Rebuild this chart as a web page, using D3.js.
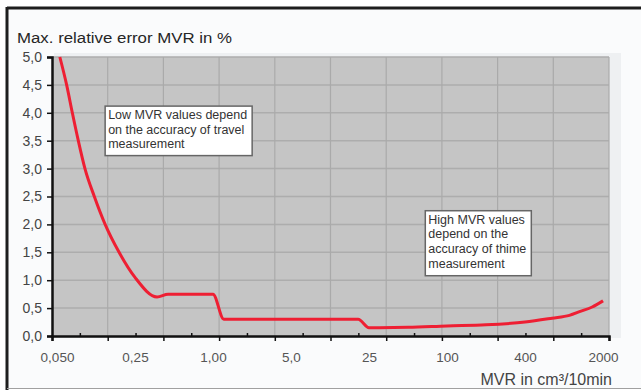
<!DOCTYPE html>
<html lang="en">
    <head>
        <meta charset="utf-8">
        <script src="https://cdn.jsdelivr.net/npm/d3@7/dist/d3.min.js"></script>
        <style type="text/css">
            body {
                margin: 0;
                background: #ffffff;
            }
            svg text {
                font-family: "Liberation Sans", Arial, sans-serif;
            }
        </style>
    </head>
    <body>
        <div id="chart"></div>

        <script type="text/javascript">
            // x axis labels (MVR in cm3/10min) and the text shown for each
            var mvrTicks = [0.05, 0.25, 1, 5, 25, 100, 400, 2000];
            var mvrTickLabels = ["0,050", "0,25", "1,00", "5,0", "25", "100", "400", "2000"];

            // y axis ticks (max. relative error in %)
            var errTicks = [0, 0.5, 1, 1.5, 2, 2.5, 3, 3.5, 4, 4.5, 5];

            // curve
            var mvrValues = [0.053, 0.061, 0.0686, 0.0776, 0.089, 0.108, 0.135, 0.18, 0.25, 0.37, 0.45,
                             1.0, 1.25, 20, 25, 30, 50, 100, 200, 400, 700, 1000, 1250, 1600, 2000];
            var errValues = [5.0, 4.5, 4.0, 3.5, 3.0, 2.5, 2.0, 1.5, 1.05, 0.70, 0.75,
                             0.75, 0.30, 0.30, 0.15, 0.15, 0.155, 0.18, 0.20, 0.25, 0.32, 0.37, 0.44, 0.52, 0.63];

            // annotation boxes, anchored at (MVR, error) of their top-left corner
            var notes = [
                { "at": [0.135, 4.12], "lines": ["Low MVR values depend", "on the accuracy of travel", "measurement"] },
                { "at": [68, 2.245], "lines": ["High MVR values", "depend on the", "accuracy of thime", "measurement"] }];

            var w = 641;
            var h = 390;
            // note: "top" is taken by window.top, so use plot* names
            var plotLeft = 52, plotRight = 609, plotTop = 57, plotBottom = 336;

            var svg = d3.select("#chart")
            .append("svg")
            .attr("width", w)
            .attr("height", h);

            // chart background and frame
            svg.append("rect")
            .attr("x", 7).attr("y", 8)
            .attr("width", w - 7).attr("height", 381)
            .attr("fill", "#fafbfc");
            svg.append("line")
            .attr("x1", 7).attr("x2", w).attr("y1", 8).attr("y2", 8)
            .attr("stroke", "#1e1e1e").attr("stroke-width", 3);
            svg.append("line")
            .attr("x1", 7).attr("x2", 7).attr("y1", 7).attr("y2", h)
            .attr("stroke", "#1e1e1e").attr("stroke-width", 3);
            svg.append("line")
            .attr("x1", 7).attr("x2", w).attr("y1", 388.5).attr("y2", 388.5)
            .attr("stroke", "#a0a0a0").attr("stroke-width", 1);

            // scales
            var x = d3.scaleLog()
            .domain(mvrTicks)
            .range(mvrTicks.map(function(d, i) { return 57 + i * 78; }));
            var gridX = d3.scaleLinear().domain([0, 20]).range([plotLeft, plotRight]);
            var y = d3.scaleLinear().domain([0, 5]).range([plotBottom, plotTop]);

            // plot area with soft shadow
            svg.append("rect")
            .attr("x", plotLeft + 2).attr("y", plotTop - 4)
            .attr("width", plotRight - plotLeft + 10).attr("height", plotBottom - plotTop + 6)
            .attr("fill", "#eef0f2");
            svg.append("rect")
            .attr("x", plotLeft).attr("y", plotTop)
            .attr("width", plotRight - plotLeft).attr("height", plotBottom - plotTop)
            .attr("fill", "#c5c5c5");

            // grid
            svg.append("g")
            .selectAll("line")
            .data(errTicks.slice(1))
            .enter()
            .append("line")
            .attr("x1", plotLeft).attr("x2", plotRight)
            .attr("y1", function(d) { return y(d); })
            .attr("y2", function(d) { return y(d); })
            .attr("stroke", "#adadad").attr("stroke-width", 1.5);
            svg.append("g")
            .selectAll("line")
            .data(d3.range(2, 21, 2))
            .enter()
            .append("line")
            .attr("x1", function(d) { return gridX(d); })
            .attr("x2", function(d) { return gridX(d); })
            .attr("y1", plotTop).attr("y2", plotBottom)
            .attr("stroke", "#aaaaaa").attr("stroke-width", 1.2);

            // curve
            svg.append("clipPath").attr("id", "plotClip")
            .append("rect")
            .attr("x", plotLeft).attr("y", plotTop - 2)
            .attr("width", plotRight - plotLeft).attr("height", plotBottom - plotTop + 2);
            var line = d3.line()
            .x(function(d, i) { return x(mvrValues[i]); })
            .y(function(d, i) { return y(errValues[i]); })
            .curve(d3.curveMonotoneX);
            svg.append("path")
            .datum(mvrValues)
            .attr("clip-path", "url(#plotClip)")
            .attr("d", line)
            .attr("fill", "none")
            .attr("stroke", "#ee1f33")
            .attr("stroke-width", 3)
            .attr("stroke-linejoin", "round");

            // y axis
            var yAxis = svg.append("g")
            .attr("transform", "translate(" + plotLeft + ",0)")
            .call(d3.axisLeft(y).tickValues(errTicks).tickSize(5).tickPadding(5)
                .tickFormat(function(d) { return d.toFixed(1).replace(".", ","); }));
            yAxis.select(".domain").attr("stroke", "#111").attr("stroke-width", 2.5);
            yAxis.selectAll(".tick line").attr("stroke", "#111").attr("stroke-width", 1.5);
            yAxis.selectAll("text").attr("font-size", 14).attr("fill", "#444")
            .attr("font-family", "'Liberation Sans', Arial, sans-serif");

            // x axis ticks (major below, minor above)
            var xAxis = svg.append("g")
            .attr("transform", "translate(0," + plotBottom + ")")
            .call(d3.axisBottom(gridX).tickValues(d3.range(0, 21)).tickSize(5)
                .tickFormat(""));
            xAxis.select(".domain").attr("stroke", "#111").attr("stroke-width", 2.5);
            xAxis.selectAll(".tick line")
            .attr("stroke", "#111").attr("stroke-width", 1.5)
            .attr("y1", function(d) { return d % 2 ? -3 : 0; })
            .attr("y2", function(d) { return d % 2 ? 0 : 5; });

            // x axis labels
            var xLabels = svg.append("g")
            .attr("transform", "translate(0," + plotBottom + ")")
            .call(d3.axisBottom(x).tickValues(mvrTicks).tickSize(0).tickPadding(16)
                .tickFormat(function(d, i) { return mvrTickLabels[i]; }));
            xLabels.select(".domain").remove();
            xLabels.selectAll("text").attr("font-size", 13.5).attr("fill", "#555")
            .attr("font-family", "'Liberation Sans', Arial, sans-serif");

            // titles
            svg.append("text")
            .attr("x", 17).attr("y", 43)
            .attr("font-size", 15.5).attr("fill", "#262626")
            .attr("textLength", 215).attr("lengthAdjust", "spacingAndGlyphs")
            .text("Max. relative error MVR in %");
            svg.append("text")
            .attr("x", 612).attr("y", 385)
            .attr("text-anchor", "end")
            .attr("font-size", 16).attr("fill", "#444")
            .text("MVR in cm³/10min");

            // note boxes
            var noteGroup = svg.append("g")
            .selectAll("g")
            .data(notes)
            .enter()
            .append("g")
            .attr("transform", function(d) { return "translate(" + x(d.at[0]) + "," + y(d.at[1]) + ")"; });
            noteGroup.append("text")
            .attr("font-size", 12.5).attr("fill", "#333")
            .selectAll("tspan")
            .data(function(d) { return d.lines; })
            .enter()
            .append("tspan")
            .attr("x", 3)
            .attr("y", function(d, i) { return 13 + i * 14.6; })
            .text(function(d) { return d; });
            noteGroup.insert("rect", "text")
            .attr("x", 0).attr("y", 0)
            .attr("width", function() { return this.parentNode.querySelector("text").getBBox().width + 8; })
            .attr("height", function(d) { return d.lines.length * 15.5 + 3; })
            .attr("fill", "#ffffff")
            .attr("stroke", "#666").attr("stroke-width", 1.5);
        </script>
    </body>
</html>
